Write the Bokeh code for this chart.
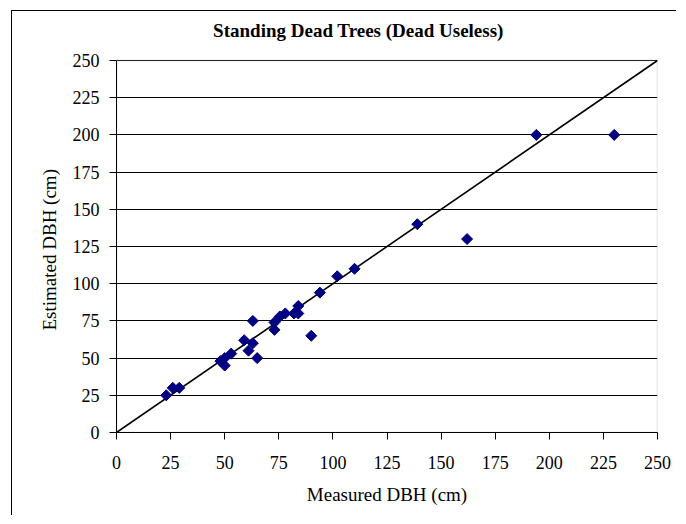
import math
from bokeh.plotting import figure
from bokeh.models import Title, FixedTicker, BoxAnnotation
from bokeh.core.properties import value
from bokeh.embed import file_html
from bokeh.resources import INLINE

# Data
measured = [23, 26, 29, 48, 50, 50, 53, 59, 61, 63, 63, 65, 73, 73, 75.5, 78, 82, 84, 84,
            90, 94, 102, 110, 139, 162, 194, 230]
estimated = [25, 30, 30, 48, 50, 45, 53, 62, 55, 60, 75, 50, 69, 74, 78, 80, 80, 80, 85,
             65, 94, 105, 110, 140, 130, 200, 200]
one_to_one_x = [0, 250]
one_to_one_y = [0, 250]
ticks = [0, 25, 50, 75, 100, 125, 150, 175, 200, 225, 250]

title_text = "Standing Dead Trees (Dead Useless)"
x_label = "Measured DBH (cm)"
y_label = "Estimated DBH (cm)"

FONT = "Liberation Serif"

# layout helpers (pixels)
FRAME_H_DATA = 372      # height of the 0..250 plot area
TOP_SPACE = 49          # room above the plot area for the title
y_top = ticks[-1] * (FRAME_H_DATA + TOP_SPACE) / FRAME_H_DATA

p = figure(width=665, height=505, output_backend="svg", toolbar_location=None,
           x_range=(ticks[0], ticks[-1]), y_range=(ticks[0], y_top),
           min_border_left=104, min_border_right=20, min_border_top=0, min_border_bottom=84)
p.styles = {"margin-left": "11px", "margin-top": "10px",
            "border-left": "1px solid #000000", "border-top": "1px solid #000000"}

p.background_fill_color = "white"
p.border_fill_color = "white"
p.outline_line_color = None

p.xgrid.visible = False
p.ygrid.ticker = FixedTicker(ticks=ticks)
p.ygrid.grid_line_color = "#000000"
p.ygrid.grid_line_width = 1

for ax in (p.xaxis[0], p.yaxis[0]):
    ax.ticker = FixedTicker(ticks=ticks)
    ax.axis_line_color = "#000000"
    ax.axis_line_width = 1
    ax.major_tick_line_color = "#000000"
    ax.major_tick_in = 0
    ax.major_tick_out = 7
    ax.minor_tick_line_color = None
    ax.major_label_text_font = FONT
    ax.major_label_text_font_size = "18px"
    ax.major_label_text_color = "#000000"
p.yaxis.bounds = (ticks[0], ticks[-1])
p.xaxis.major_label_standoff = 16
p.yaxis.major_label_standoff = 10

# plot-area border (grey, top and right)
p.add_layout(BoxAnnotation(left=ticks[0], right=ticks[-1], bottom=ticks[0], top=ticks[-1],
                           fill_alpha=0, line_color="#808080", line_width=1.5, level="underlay"))

# 1:1 line
p.line(one_to_one_x, one_to_one_y, line_color="#000000", line_width=1.6)

# Points
p.scatter(measured, estimated, marker="square", angle=math.pi / 4, size=7.8,
          fill_color="#000080", line_color="#000080")

# Chart title (placed in the space above the plot area)
title_x = 111.8
title_y = ticks[-1] * (FRAME_H_DATA + 30) / FRAME_H_DATA
p.text(x=[title_x], y=[title_y], text=[title_text], text_align="center",
       text_baseline="middle", text_font=value(FONT), text_font_style="bold",
       text_font_size="19px", text_color="#000000")

# Axis titles
p.add_layout(Title(text=x_label, align="center", standoff=20,
                   text_font=FONT, text_font_style="normal", text_font_size="19px",
                   text_color="#000000"), "below")
p.add_layout(Title(text=y_label, align="left", offset=102, standoff=20,
                   text_font=FONT, text_font_style="normal", text_font_size="19px",
                   text_color="#000000"), "left")

open("out.html", "w").write(file_html(p, INLINE))
